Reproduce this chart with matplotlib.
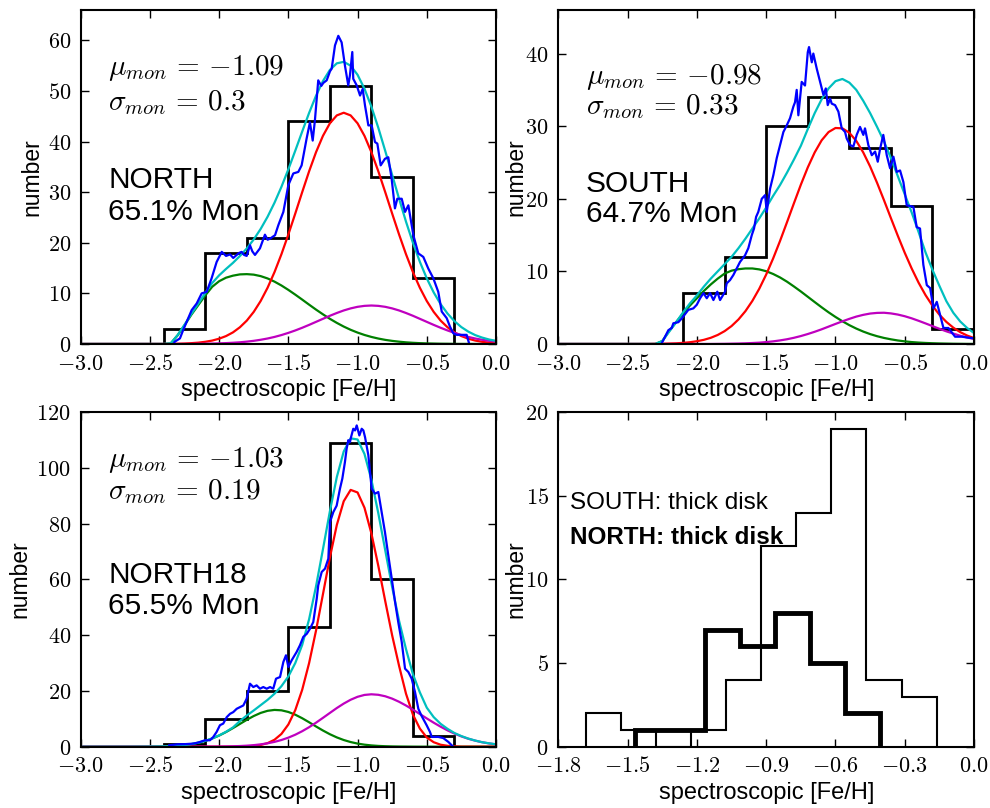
import numpy as np
import matplotlib
matplotlib.use('Agg')
import matplotlib.pyplot as plt
from matplotlib.ticker import FixedLocator, FuncFormatter

plt.rcParams['mathtext.fontset'] = 'cm'
plt.rcParams['font.family'] = ['Liberation Sans', 'DejaVu Sans']

# ---------------- data ----------------
feh_grid = np.round(np.arange(-3.0, 0.001, 0.05), 2)   # model evaluation grid (61 pts)

# NORTH
north_edges = [-2.4, -2.1, -1.8, -1.5, -1.2, -0.9, -0.6, -0.3]
north_counts = [3, 18, 21, 44, 51, 33, 13]
north_red = [0]*14 + [0.05, 0.09, 0.16, 0.26, 0.43, 0.67, 1.04, 1.56, 2.29, 3.30, 4.62, 6.34, 8.49, 11.11,
             14.20, 17.73, 21.63, 25.77, 30.00, 34.12, 37.90, 41.13, 43.61, 45.17, 45.70, 45.17, 43.61,
             41.13, 37.90, 34.12, 30.00, 25.77, 21.63, 17.73, 14.20, 11.11, 8.49, 6.34, 4.62, 3.30, 2.29,
             1.56, 1.04, 0.67, 0.43, 0.26, 0.16]
north_green = [0]*13 + [0.1, 1.7, 3.7, 5.8, 7.7, 9.6, 11.3, 12.4, 13.1, 13.5, 13.75, 13.8, 13.70, 13.41,
               12.95, 12.32, 11.56, 10.69, 9.75, 8.77, 7.77, 6.79, 5.86, 4.97, 4.17, 3.44, 2.80, 2.25,
               1.78, 1.39, 1.07, 0.81, 0.61, 0.45, 0.32, 0.23, 0.16, 0.11, 0.08, 0.05, 0.04, 0.02, 0.01,
               0.01, 0, 0, 0, 0]
north_mag = [0]*17 + [0.03, 0.05, 0.08, 0.12, 0.17, 0.24, 0.33, 0.46, 0.62, 0.83, 1.08, 1.39, 1.76, 2.19,
             2.67, 3.20, 3.77, 4.37, 4.97, 5.57, 6.12, 6.62, 7.03, 7.34, 7.53, 7.60, 7.53, 7.34, 7.03,
             6.62, 6.12, 5.57, 4.97, 4.37, 3.77, 3.20, 2.67, 2.19, 1.76, 1.39, 1.08, 0.83, 0.62, 0.46]
north_total = [0]*13 + [0.1, 1.75, 3.79, 5.96, 7.99, 10.08, 12.05, 13.56, 14.83, 16.03, 17.38, 18.88,
               20.66, 22.73, 25.14, 27.91, 31.05, 34.51, 38.19, 41.97, 45.66, 49.06, 51.96, 54.15, 55.46,
               55.76, 55.00, 53.20, 50.44, 46.89, 42.72, 38.15, 33.41, 28.70, 24.17, 20.00, 16.24, 12.97,
               10.19, 7.87, 6.01, 4.50, 3.33, 2.44, 1.75, 1.26, 0.88, 0.62]
north_kde_x = [-2.33, -2.32, -2.283, -2.259, -2.223, -2.198, -2.162, -2.126, -2.090, -2.054, -2.018,
               -1.981, -1.950, -1.921, -1.898, -1.873, -1.855, -1.837, -1.820, -1.801, -1.777, -1.760,
               -1.741, -1.705, -1.669, -1.650, -1.633, -1.596, -1.572, -1.536, -1.500, -1.464, -1.428,
               -1.404, -1.368, -1.344, -1.324, -1.308, -1.284, -1.262, -1.247, -1.223, -1.199, -1.187,
               -1.163, -1.139, -1.115, -1.091, -1.067, -1.055, -1.038, -1.031, -1.006, -0.982, -0.963,
               -0.946, -0.922, -0.898, -0.874, -0.857, -0.833, -0.802, -0.778, -0.754, -0.730, -0.713,
               -0.681, -0.657, -0.633, -0.597, -0.561, -0.525, -0.489, -0.453, -0.417, -0.392, -0.356,
               -0.332, -0.308, -0.284, -0.212, -0.193]
north_kde_y = [0.0, 0.45, 1.1, 2.8, 5.1, 6.7, 8.0, 10.0, 10.3, 13.0, 16.2, 18.2, 17.4, 17.7, 17.0, 17.6,
               18.0, 18.2, 17.6, 17.4, 19.5, 18.3, 17.6, 18.9, 21.6, 20.6, 20.8, 21.5, 23.5, 26.1, 31.4,
               33.7, 34.0, 35.3, 40.6, 43.8, 40.2, 44.2, 52.1, 51.0, 51.6, 52.1, 53.9, 54.4, 59.0, 60.9,
               59.6, 55.0, 51.1, 53.1, 57.7, 52.4, 51.1, 49.1, 50.4, 47.1, 43.2, 43.2, 39.9, 39.6, 35.3,
               36.6, 36.9, 32.7, 26.8, 28.7, 28.7, 26.1, 27.4, 21.5, 17.9, 17.2, 14.9, 13.0, 10.3, 6.4,
               5.1, 3.4, 2.1, 1.8, 1.8, 0.0]

# SOUTH
south_edges = [-2.1, -1.8, -1.5, -1.2, -0.9, -0.6, -0.3, 0.0]
south_counts = [7, 12, 30, 34, 27, 19, 2]
south_red = [0]*14 + [0.02, 0.03, 0.06, 0.09, 0.15, 0.24, 0.38, 0.57, 0.85, 1.24, 1.77, 2.47, 3.38, 4.52,
             5.93, 7.61, 9.57, 11.78, 14.20, 16.77, 19.38, 21.94, 24.32, 26.39, 28.05, 29.19, 29.75,
             29.70, 29.09, 27.97, 26.39, 24.44, 22.20, 19.80, 17.33, 14.89, 12.55, 10.39, 8.43, 6.72,
             5.26, 4.03, 3.04, 2.25, 1.63, 1.16, 0.81]
south_green = [0]*15 + [0.4, 1.8, 3.0, 4.2, 5.3, 6.3, 7.3, 8.2, 9.0, 9.7, 10.1, 10.3, 10.4, 10.4, 10.27,
               10.02, 9.64, 9.16, 8.58, 7.92, 7.23, 6.50, 5.77, 5.05, 4.36, 3.72, 3.13, 2.59, 2.12, 1.71,
               1.36, 1.07, 0.83, 0.64, 0.48, 0.36, 0.26, 0.19, 0.14, 0.10, 0.07, 0.05, 0.03, 0.02, 0.01,
               0.01]
south_mag = [0]*23 + [0.01, 0.02, 0.04, 0.06, 0.09, 0.13, 0.18, 0.26, 0.36, 0.49, 0.65, 0.85, 1.09, 1.37,
             1.68, 2.02, 2.39, 2.76, 3.12, 3.46, 3.77, 4.01, 4.19, 4.28, 4.30, 4.21, 4.05, 3.82, 3.53,
             3.19, 2.83, 2.46, 2.09, 1.74, 1.43, 1.14, 0.89, 0.69]
south_total = [0]*15 + [0.4, 1.7, 3.0, 4.35, 5.6, 6.7, 7.9, 9.0, 10.0, 11.0, 12.0, 13.2, 14.5, 15.9, 17.3,
               18.8, 20.4, 21.9, 23.6, 25.4, 27.3, 29.6, 31.8, 33.7, 35.2, 36.2, 36.5, 36.0, 35.0, 33.5,
               31.8, 29.9, 27.9, 25.6, 23.1, 20.6, 18.1, 15.4, 12.6, 10.2, 8.0, 5.9, 4.3, 3.1, 2.2, 1.5]
south_kde_x = [-2.254, -2.230, -2.206, -2.182, -2.170, -2.134, -2.110, -2.086, -2.062, -2.026, -2.001,
               -1.977, -1.953, -1.929, -1.905, -1.881, -1.853, -1.833, -1.797, -1.785, -1.761, -1.737,
               -1.713, -1.689, -1.653, -1.629, -1.604, -1.588, -1.573, -1.557, -1.532, -1.508, -1.496,
               -1.472, -1.448, -1.424, -1.400, -1.376, -1.352, -1.328, -1.304, -1.292, -1.280, -1.268,
               -1.244, -1.220, -1.200, -1.191, -1.171, -1.160, -1.135, -1.111, -1.087, -1.070, -1.056,
               -1.039, -1.027, -1.003, -0.979, -0.955, -0.931, -0.919, -0.895, -0.871, -0.847, -0.823,
               -0.799, -0.787, -0.763, -0.738, -0.714, -0.695, -0.678, -0.655, -0.630, -0.606, -0.582,
               -0.558, -0.534, -0.510, -0.486, -0.438, -0.414, -0.390, -0.366, -0.341, -0.317, -0.293,
               -0.269, -0.245, -0.221, -0.185, -0.137, -0.089, -0.041, -0.005]
south_kde_y = [0.1, 1.0, 1.9, 2.2, 2.85, 3.0, 3.5, 4.1, 4.7, 4.9, 5.4, 6.3, 7.0, 6.3, 7.0, 6.05, 7.2, 6.05,
               7.2, 8.35, 8.8, 9.5, 10.4, 11.3, 12.2, 13.2, 15.0, 15.9, 17.5, 18.2, 20.0, 20.5, 18.2, 21.4,
               23.3, 25.6, 27.4, 29.2, 30.1, 31.1, 32.7, 33.3, 35.0, 31.5, 36.1, 35.6, 40.2, 40.9, 38.8,
               40.0, 37.9, 36.1, 34.3, 35.2, 32.9, 33.8, 33.1, 32.9, 32.0, 29.7, 29.2, 28.3, 27.4, 27.2,
               28.8, 29.9, 28.8, 29.7, 27.4, 26.0, 26.5, 25.1, 26.9, 28.8, 26.0, 24.2, 25.8, 23.7, 23.9,
               22.3, 19.1, 18.9, 16.1, 15.9, 10.9, 8.1, 7.7, 4.9, 5.8, 4.0, 2.2, 2.2, 1.0, 1.0, 0.87, 0.78]

# NORTH18
n18_edges = [-2.4, -2.1, -1.8, -1.5, -1.2, -0.9, -0.6, -0.3]
n18_counts = [1, 10, 20, 43, 109, 60, 4]
n18_red = [0]*22 + [0.02, 0.05, 0.12, 0.28, 0.61, 1.27, 2.48, 4.57, 7.96, 13.11, 20.40, 30.0, 41.67,
           54.71, 67.86, 79.54, 88.08, 92.16, 91.24, 85.76, 76.54, 64.88, 52.23, 39.93, 28.99, 19.0,
           11.5, 6.5, 3.3, 1.6, 0.7, 0.3, 0.1, 0, 0, 0, 0, 0, 0]
n18_green = [0]*8 + [0.01, 0.02, 0.04, 0.07, 0.12, 0.22, 0.37, 0.59, 0.93, 1.42, 2.07, 2.93, 3.99, 5.25,
             6.66, 8.16, 9.64, 11.0, 12.11, 12.87, 13.19, 13.05, 12.46, 11.48, 10.21, 8.76, 7.25, 5.80,
             4.47, 3.33, 2.39, 1.66, 1.11, 0.72, 0.45, 0.27, 0.16, 0.09, 0.05, 0.03, 0.01] + [0]*12
n18_mag = [0]*18 + [0.02, 0.03, 0.05, 0.09, 0.14, 0.23, 0.36, 0.55, 0.83, 1.21, 1.72, 2.39, 3.24, 4.29,
           5.55, 6.99, 8.61, 10.34, 12.11, 13.86, 15.46, 16.84, 17.90, 18.57, 18.80, 18.62, 18.09,
           17.24, 16.11, 14.77, 13.29, 11.72, 10.14, 8.61, 7.17, 5.85, 4.69, 3.68, 2.84, 2.15, 1.59,
           1.16, 0.83]
n18_total = [0]*8 + [0.01, 0.02, 0.04, 0.07, 0.12, 0.22, 0.37, 0.59, 0.93, 1.42, 2.09, 2.96, 4.04, 5.34,
             6.9, 9.2, 11.2, 13.0, 14.9, 16.8, 19.0, 21.7, 25.2, 30.0, 36.5, 45.75, 57.53, 70.85,
             84.44, 96.73, 105.93, 110.66, 110.25, 105.05, 95.79, 83.77, 70.48, 57.26, 45.15, 35.0,
             26.0, 19.5, 14.0, 10.6, 8.2, 6.4, 4.9, 3.8, 2.9, 2.2, 1.6, 1.2, 0.85]
n18_kde_x = [-2.360, -2.300, -2.250, -2.187, -2.150, -2.102, -2.066, -2.042, -2.018, -1.994, -1.970,
             -1.945, -1.921, -1.898, -1.873, -1.849, -1.825, -1.801, -1.777, -1.753, -1.729, -1.705,
             -1.681, -1.656, -1.632, -1.609, -1.589, -1.560, -1.536, -1.517, -1.500, -1.476, -1.440,
             -1.416, -1.392, -1.367, -1.344, -1.320, -1.295, -1.284, -1.259, -1.235, -1.211, -1.199,
             -1.175, -1.151, -1.127, -1.110, -1.091, -1.079, -1.067, -1.055, -1.047, -1.031, -1.018,
             -1.006, -0.987, -0.970, -0.958, -0.946, -0.922, -0.898, -0.874, -0.850, -0.826, -0.802,
             -0.778, -0.753, -0.729, -0.706, -0.681, -0.657, -0.633, -0.609, -0.585, -0.561, -0.537,
             -0.501, -0.477, -0.464, -0.417, -0.381, -0.344, -0.320, -0.308]
n18_kde_y = [0.5, 0.85, 0.9, 1.1, 1.5, 2.3, 2.3, 3.5, 5.3, 7.7, 8.3, 10.6, 11.8, 12.4, 13.6, 14.2, 14.8,
             17.2, 22.6, 21.4, 22.0, 20.8, 21.4, 20.8, 21.4, 20.8, 24.4, 25.0, 30.4, 32.8, 28.6, 31.0,
             34.0, 36.4, 39.4, 40.5, 42.3, 44.7, 53.1, 57.9, 62.7, 63.9, 67.5, 80.6, 84.2, 86.5, 92.6,
             96.2, 102.2, 106.9, 110.0, 109.3, 111.1, 114.1, 113.5, 115.3, 111.7, 114.1, 113.5, 111.1,
             104.6, 92.6, 90.8, 91.4, 84.2, 77.0, 68.7, 60.3, 51.9, 44.7, 37.6, 28.0, 26.8, 24.4, 19.6,
             13.6, 11.0, 7.7, 5.3, 3.5, 3.5, 3.1, 1.7, 0.5, 0.0]

# thick disk panel
td_south_edges = [-1.682, -1.530, -1.378, -1.226, -1.074, -0.922, -0.770, -0.618, -0.466, -0.314, -0.162]
td_south_counts = [2, 1, 0, 1, 4, 12, 14, 19, 4, 3]
td_north_edges = [-1.468, -1.316, -1.165, -1.013, -0.862, -0.710, -0.559, -0.407]
td_north_counts = [1, 1, 7, 6, 8, 5, 2]

panels = [
    dict(edges=north_edges, counts=north_counts, red=north_red, green=north_green, mag=north_mag,
         tot=north_total, kx=north_kde_x, ky=north_kde_y, ylim=66, yticks=[0, 10, 20, 30, 40, 50, 60],
         mu=r'$\mu_{mon}\,=\,{-1.09}$', sig=r'$\sigma_{mon}\,=\,0.3$', name='NORTH', frac='65.1% Mon',
         ty=(0.826, 0.722, 0.491, 0.395)),
    dict(edges=south_edges, counts=south_counts, red=south_red, green=south_green, mag=south_mag,
         tot=south_total, kx=south_kde_x, ky=south_kde_y, ylim=46, yticks=[0, 10, 20, 30, 40],
         mu=r'$\mu_{mon}\,=\,{-0.98}$', sig=r'$\sigma_{mon}\,=\,0.33$', name='SOUTH', frac='64.7% Mon',
         ty=(0.800, 0.712, 0.479, 0.389)),
    dict(edges=n18_edges, counts=n18_counts, red=n18_red, green=n18_green, mag=n18_mag,
         tot=n18_total, kx=n18_kde_x, ky=n18_kde_y, ylim=120, yticks=[0, 20, 40, 60, 80, 100, 120],
         mu=r'$\mu_{mon}\,=\,{-1.03}$', sig=r'$\sigma_{mon}\,=\,0.19$', name='NORTH18', frac='65.5% Mon',
         ty=(0.857, 0.762, 0.513, 0.420)),
]

# ---------------- figure ----------------
fig = plt.figure(figsize=(9.9, 8.08), dpi=100)
rects = [[0.0815, 0.5743, 0.4195, 0.4133],
         [0.5640, 0.5743, 0.4199, 0.4133],
         [0.0815, 0.0759, 0.4195, 0.4138],
         [0.5640, 0.0759, 0.4199, 0.4138]]
axes = [fig.add_axes(r) for r in rects]
ylabel_x = [-0.0896, -0.074, -0.1185, -0.074]

xfmt = FuncFormatter(lambda v, p: r'$%.1f$' % v)
yfmt = FuncFormatter(lambda v, p: r'$%d$' % int(round(v)))

def style(ax, xt, yt, lx):
    for s in ax.spines.values():
        s.set_linewidth(1.5)
    ax.xaxis.set_major_locator(FixedLocator(xt))
    ax.yaxis.set_major_locator(FixedLocator(yt))
    ax.xaxis.set_major_formatter(xfmt)
    ax.yaxis.set_major_formatter(yfmt)
    ax.tick_params(direction='in', top=True, right=True, length=6, width=1.0,
                   labelsize=16, pad=7)
    ax.set_xlabel('spectroscopic [Fe/H]', fontsize=17, labelpad=3)
    ax.set_ylabel('number', fontsize=16.5)
    ax.yaxis.set_label_coords(lx, 0.5)

CYAN = (0.0, 0.75, 0.75)
MAG = (0.75, 0.0, 0.75)
GREEN = (0.0, 0.5, 0.0)

xt_main = [-3.0, -2.5, -2.0, -1.5, -1.0, -0.5, 0.0]
for ax, p, lx in zip(axes[:3], panels, ylabel_x[:3]):
    ax.stairs(p['counts'], p['edges'], baseline=0, color='k', lw=2.0)
    ax.plot(feh_grid, p['green'], color=GREEN, lw=1.6)
    ax.plot(feh_grid, p['red'], color='r', lw=1.6)
    ax.plot(feh_grid, p['mag'], color=MAG, lw=1.6)
    ax.plot(feh_grid, p['tot'], color=CYAN, lw=1.6)
    ax.plot(p['kx'], p['ky'], color='b', lw=1.6)
    ax.set_xlim(-3.0, 0.0)
    ax.set_ylim(0, p['ylim'])
    style(ax, xt_main, p['yticks'], lx)
    t = p['ty']
    ax.text(0.066, t[0], p['mu'], transform=ax.transAxes, fontsize=21, va='center', ha='left')
    ax.text(0.066, t[1], p['sig'], transform=ax.transAxes, fontsize=21, va='center', ha='left')
    ax.text(0.066, t[2], p['name'], transform=ax.transAxes, fontsize=21.5, va='center', ha='left')
    ax.text(0.066, t[3], p['frac'], transform=ax.transAxes, fontsize=21.5, va='center', ha='left')

ax = axes[3]
ax.stairs(td_south_counts, td_south_edges, baseline=0, color='k', lw=1.5)
ax.stairs(td_north_counts, td_north_edges, baseline=0, color='k', lw=3.5)
ax.set_xlim(-1.8, 0.0)
ax.set_ylim(0, 20)
style(ax, [-1.8, -1.5, -1.2, -0.9, -0.6, -0.3, 0.0], [0, 5, 10, 15, 20], ylabel_x[3])
ax.text(0.028, 0.729, 'SOUTH: thick disk', transform=ax.transAxes, fontsize=17.5, va='center', ha='left')
ax.text(0.028, 0.627, 'NORTH: thick disk', transform=ax.transAxes, fontsize=17.5, va='center', ha='left',
        fontweight='bold')

fig.savefig('out.png', dpi=100)
